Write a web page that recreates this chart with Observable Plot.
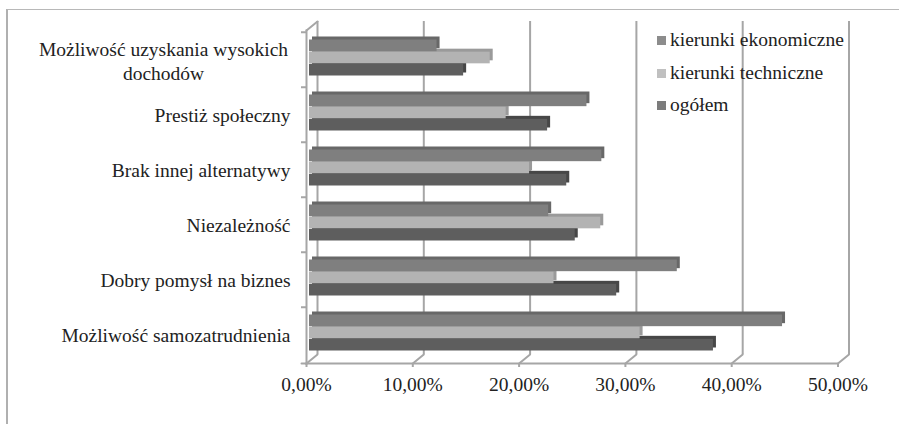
<!DOCTYPE html>
<html>
<head>
<meta charset="utf-8">
<script src="https://cdn.jsdelivr.net/npm/d3@7"></script>
<script src="https://cdn.jsdelivr.net/npm/@observablehq/plot@0.6"></script>
<style>
  html, body { margin: 0; padding: 0; background: #fff; }
  #wrap { position: relative; width: 899px; height: 424px; overflow: hidden; }
  #frame { position: absolute; left: 6px; top: 9px; width: 1000px; height: 1000px;
           border-left: 2px solid #b0b0b0; border-top: 1px solid #b8b8b8; box-sizing: border-box; }
  #chart { position: absolute; left: 0; top: 0; }
  .legend { position: absolute; left: 657px; font-family: "Liberation Serif", serif; font-size: 19.5px; color: #222; }
  .legend .row { display: flex; align-items: center; height: 20px; line-height: 20px; position: absolute; left: 0; white-space: nowrap; }
  .legend .sw { width: 9px; height: 9px; margin-right: 4px; margin-top: 1px; }
</style>
</head>
<body>
<div id="wrap">
  <div id="frame"></div>
  <div id="chart"></div>
  <div class="legend" id="legend"></div>
</div>
<script>
const categories = [
  "Możliwość uzyskania wysokich dochodów",
  "Prestiż społeczny",
  "Brak innej alternatywy",
  "Niezależność",
  "Dobry pomysł na biznes",
  "Możliwość samozatrudnienia"
];
const firstLabelLines = "Możliwość uzyskania wysokich\ndochodów";
const seriesNames = ["kierunki ekonomiczne", "kierunki techniczne", "ogółem"];
const ekonomiczne = [12.0, 26.1, 27.5, 22.5, 34.6, 44.5];
const techniczne  = [17.0, 18.5, 20.7, 27.4, 23.0, 31.1];
const ogolem      = [14.5, 22.4, 24.2, 25.0, 28.9, 38.0];
const xTicks = [0, 10, 20, 30, 40, 50];

const colors = {ekon: "#7f7f7f", tech: "#b3b3b3", ogol: "#5e5e5e"};
const depthColors = {ekon: "#686868", tech: "#9a9a9a", ogol: "#474747"};
const grid = "#a6a6a6";

const rows = categories.map((c, i) => ({category: c, ekon: ekonomiczne[i], tech: techniczne[i], ogol: ogolem[i]}));

const lineShape = {draw(context, l) { context.moveTo(0, 0); context.lineTo(0, -l); }};

function bar3d(key, insetTop, insetBottom) {
  return [
    Plot.barX(rows, {x: key, y: "category", insetTop, insetBottom, dx: 6, dy: -3, fill: depthColors[key]}),
    Plot.barX(rows, {x: key, y: "category", insetTop, insetBottom, dx: 3, fill: colors[key]})
  ];
}

const chart = Plot.plot({
  width: 899,
  height: 424,
  marginLeft: 306,
  marginRight: 61.5,
  marginTop: 30,
  marginBottom: 61,
  style: {fontFamily: "'Liberation Serif', 'Times New Roman', serif", fontSize: "19.5px", color: "#222", background: "transparent"},
  x: {domain: [0, 50], ticks: xTicks, label: null},
  y: {domain: categories, padding: 0, label: null},
  marks: [
    // back wall gridlines
    Plot.ruleX(xTicks, {x: d => d, dx: 11, dy: -9, stroke: grid, strokeWidth: 2}),
    // floor slants
    Plot.vector(xTicks, {x: d => d, frameAnchor: "bottom", length: 14.2, rotate: 50.7, anchor: "start", shape: lineShape, stroke: grid, strokeWidth: 2, fill: "none"}),
    // top-left slant
    Plot.vector([0], {x: d => d, frameAnchor: "top", length: 14.2, rotate: 50.7, anchor: "start", shape: lineShape, stroke: grid, strokeWidth: 2, fill: "none"}),
    // front floor & left lines
    Plot.frame({anchor: "bottom", stroke: grid, strokeWidth: 2}),
    Plot.frame({anchor: "left", stroke: grid, strokeWidth: 2}),
    // bars (bottom series first)
    ...bar3d("ogol", 31.83, 11.5),
    ...bar3d("tech", 19.67, 23.67),
    ...bar3d("ekon", 7.5, 35.83),
    // left boundary ticks
    Plot.axisY({tickSize: 5, tickFormat: () => "", dy: -27.75, stroke: grid, strokeWidth: 2, label: null}),
    Plot.vector([0], {x: d => d, frameAnchor: "bottom", length: 5, rotate: 270, anchor: "start", shape: lineShape, stroke: grid, strokeWidth: 2, fill: "none"}),
    // y labels
    Plot.axisY({tickSize: 0, tickPadding: 16, dy: 1, fill: "#222", label: null, tickFormat: d => d === categories[0] ? "" : d}),
    Plot.text([categories[0]], {y: d => d, text: () => firstLabelLines, frameAnchor: "left", dx: -143, dy: 0, textAnchor: "middle", lineAnchor: "middle", lineHeight: 1.23, fill: "#222"}),
    // x axis
    Plot.axisX({tickSize: 4, tickPadding: 10, stroke: grid, strokeWidth: 2, fill: "#222", label: null,
      tickFormat: d => d.toFixed(2).replace(".", ",") + "%"})
  ]
});
document.getElementById("chart").appendChild(chart);

const legend = document.getElementById("legend");
const legendColors = ["#8c8c8c", "#c0c0c0", "#7c7c7c"];
const legendTops = [30, 63, 95];
seriesNames.forEach((name, i) => {
  const row = document.createElement("div");
  row.className = "row";
  row.style.top = legendTops[i] + "px";
  const sw = document.createElement("div");
  sw.className = "sw";
  sw.style.background = legendColors[i];
  const t = document.createElement("span");
  t.textContent = name;
  row.appendChild(sw); row.appendChild(t);
  legend.appendChild(row);
});
</script>
</body>
</html>
